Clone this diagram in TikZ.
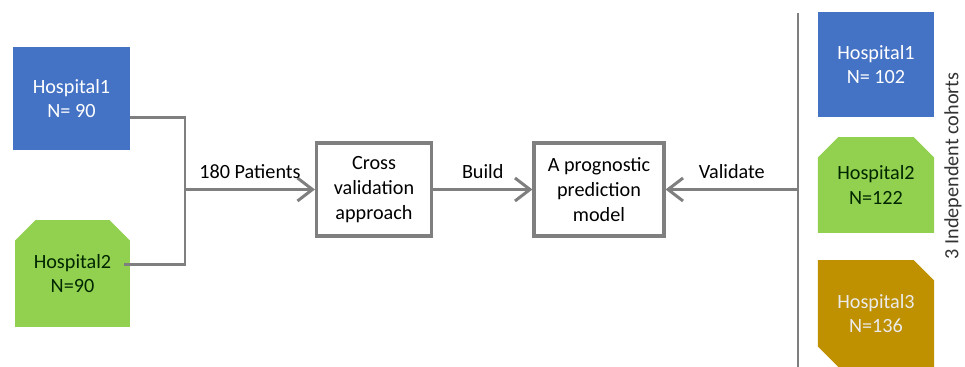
\documentclass[tikz,border=0pt]{standalone}
\usepackage{fontspec}
\setmainfont{Carlito}
\usepackage{tikz}
\usetikzlibrary{positioning}
\usetikzlibrary{arrows.meta,shapes.misc,calc}

\definecolor{hblue}{HTML}{4472C4}
\definecolor{hgreen}{HTML}{92D050}
\definecolor{hgold}{HTML}{BF9000}
\definecolor{lgray}{HTML}{7F7F7F}

\begin{document}
\begin{tikzpicture}	[
		x=0.02cm, y=-0.02cm,
		font=\fontsize{11.5}{14}\selectfont,
		hosp/.style={rectangle, align=center, inner sep=0, minimum width=2.33cm},
		snip/.style={chamfered rectangle, chamfered rectangle xsep=0.3cm, align=center, inner sep=0, minimum width=2.33cm},
		stage/.style={draw=lgray, line width=1.8pt, align=center, minimum height=1.86cm},
		conn/.style={draw=lgray, line width=1.7pt},
		arr/.style={conn, -{Straight Barb[length=0.3cm,width=0.46cm]}}
	]
		\useasboundingbox (0,0) rectangle (965,367);
		\clip (0,0) rectangle (965,367);

		% training cohorts
		\node[hosp, fill=hblue, text=white, minimum height=2.06cm] (hA) at (71.5,98.5) {Hospital1\\N= 90};
		\node[snip, chamfered rectangle corners={north east, north west}, fill=hgreen, text=black!85!green,
			minimum width=2.3cm, minimum height=2.14cm] (hB) at (72.5,273.5) {Hospital2\\N=90};

		% stages
		\node[stage, minimum width=2.3cm] (cv) at (374,189.5) {Cross\\validation\\approach};
		\node[stage, minimum width=2.6cm] (pm) at (599,189.5) {A prognostic\\prediction\\model};

		% validation cohorts
		\node[hosp, fill=hblue, text=white, minimum height=2.1cm] (vA) at (876,64.5) {Hospital1\\N= 102};
		\node[snip, chamfered rectangle corners={north east, north west}, fill=hgreen, text=black!85!green,
			minimum height=1.92cm] (vB) at (876,185) {Hospital2\\N=122};
		\node[snip, chamfered rectangle corners={north east, south west}, fill=hgold, text=white!92!black,
			minimum height=2.14cm] (vC) at (876,313.5) {Hospital3\\N=136};
		\node[rotate=90, text=black!80] (ic) at (953,166) {3 Independent cohorts};

		\coordinate (jn) at (185,189.5);
		\coordinate (vt) at (798,13);
		\coordinate (vb) at (798,367);

		\draw[conn]
			($(hA.south east)!0.32!(hA.north east)$) -| (jn)
			|- ($(hB.south east)!0.645!(hB.north east)$)
			(vt) -- (vb)
		;
		\draw[arr] (jn) -- (cv) node[midway, above=2pt]{180 Patients};
		\draw[arr] (cv) -- (pm) node[midway, above=2pt]{Build};
		\draw[arr] (vt |- pm) -- (pm) node[midway, above=2pt]{Validate};
	\end{tikzpicture}
\end{document}
